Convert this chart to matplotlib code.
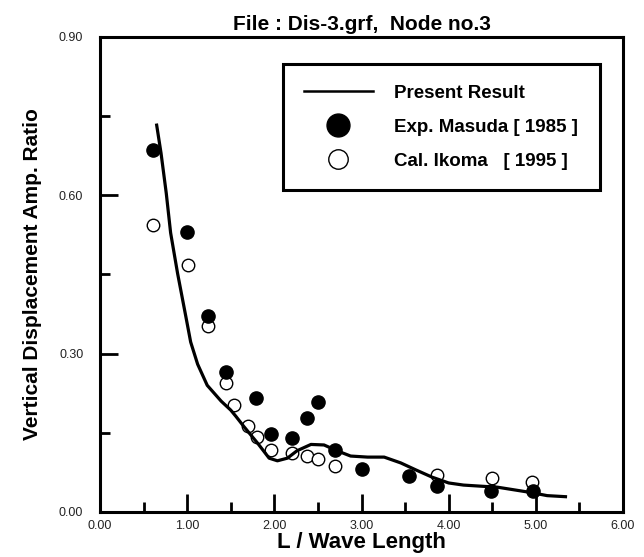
import numpy as np
import matplotlib.pyplot as plt
from matplotlib.lines import Line2D
from matplotlib.ticker import MultipleLocator, FormatStrFormatter

plt.rcParams['font.family'] = ['Liberation Sans', 'DejaVu Sans']

# -----------------------------
# Data
# -----------------------------
# Present Result (solid curve)
calc_x = [0.65, 0.70, 0.76, 0.81, 0.89, 0.985, 1.04, 1.12, 1.23, 1.39,
          1.50, 1.56, 1.65, 1.81, 1.94, 2.035, 2.15, 2.26, 2.42, 2.57,
          2.72, 2.875, 3.07, 3.26, 3.45, 3.62, 3.81, 4.00, 4.17, 4.36,
          4.56, 4.75, 4.94, 5.13, 5.34]
calc_y = [0.733, 0.680, 0.604, 0.529, 0.452, 0.370, 0.322, 0.280, 0.240, 0.210,
          0.193, 0.181, 0.162, 0.130, 0.102, 0.097, 0.102, 0.116, 0.128, 0.127,
          0.116, 0.106, 0.104, 0.104, 0.093, 0.080, 0.066, 0.055, 0.051, 0.049,
          0.047, 0.042, 0.037, 0.031, 0.029]

# Exp. Masuda [1985] (filled circles)
exp_x = [0.61, 1.00, 1.24, 1.44, 1.79, 1.96, 2.20, 2.37, 2.50, 2.70,
         3.00, 3.55, 3.87, 4.49, 4.97]
exp_y = [0.686, 0.531, 0.371, 0.265, 0.216, 0.148, 0.140, 0.178, 0.208, 0.117,
         0.081, 0.068, 0.049, 0.040, 0.040]

# Cal. Ikoma [1995] (open circles)
ikoma_x = [0.61, 1.01, 1.24, 1.44, 1.54, 1.70, 1.80, 1.96, 2.20, 2.37,
           2.50, 2.70, 3.87, 4.50, 4.96]
ikoma_y = [0.544, 0.468, 0.352, 0.244, 0.203, 0.162, 0.143, 0.117, 0.112, 0.106,
           0.100, 0.088, 0.071, 0.065, 0.057]

# -----------------------------
# Figure
# -----------------------------
fig = plt.figure(figsize=(6.44, 5.57), dpi=100)
ax = fig.add_axes([0.1553, 0.0808, 0.8121, 0.8528])

ax.plot(ikoma_x, ikoma_y, 'o', mfc='white', mec='black', mew=1.0, ms=9, zorder=3)
ax.plot(exp_x, exp_y, 'o', mfc='black', mec='black', ms=9.5, zorder=4)
ax.plot(calc_x, calc_y, '-', color='black', lw=2.3, zorder=5)

ax.set_xlim(0, 6)
ax.set_ylim(0, 0.9)

ax.xaxis.set_major_locator(MultipleLocator(1.0))
ax.xaxis.set_minor_locator(MultipleLocator(0.5))
ax.yaxis.set_major_locator(MultipleLocator(0.3))
ax.yaxis.set_minor_locator(MultipleLocator(0.15))
ax.xaxis.set_major_formatter(FormatStrFormatter('%.2f'))
ax.yaxis.set_major_formatter(FormatStrFormatter('%.2f'))

ax.tick_params(which='major', direction='in', length=13, width=2,
               labelsize=9, labelcolor='#222222', top=False, right=False)
ax.tick_params(which='minor', direction='in', length=7, width=2,
               top=False, right=False)
ax.tick_params(axis='y', which='major', pad=12)
ax.tick_params(axis='x', which='major', pad=6)

for sp in ax.spines.values():
    sp.set_linewidth(2.2)

ax.set_xlabel("L / Wave Length", fontsize=16, fontweight='bold', labelpad=0)
ax.set_ylabel("Vertical Displacement Amp. Ratio", fontsize=15,
              fontweight='bold', labelpad=12)
ax.set_title("File : Dis-3.grf,  Node no.3", fontsize=15, fontweight='bold', pad=5)

# -----------------------------
# Legend
# -----------------------------
handles = [
    Line2D([], [], color='black', lw=1.8),
    Line2D([], [], ls='none', marker='o', mfc='black', mec='black', ms=16.5),
    Line2D([], [], ls='none', marker='o', mfc='white', mec='black', mew=1.0, ms=14),
]
labels = ["Present Result", "Exp. Masuda [ 1985 ]", "Cal. Ikoma   [ 1995 ]"]
leg = ax.legend(handles, labels, loc='upper left',
                bbox_to_anchor=(0.35, 0.676, 0.606, 0.267), mode='expand',
                fancybox=False, edgecolor='black', framealpha=1,
                prop={'weight': 'bold', 'size': 13.5},
                handlelength=3.7, handletextpad=1.1, borderpad=1.1,
                labelspacing=0.9, borderaxespad=0)
leg.get_frame().set_linewidth(2.2)

fig.savefig("out.png", dpi=100)
